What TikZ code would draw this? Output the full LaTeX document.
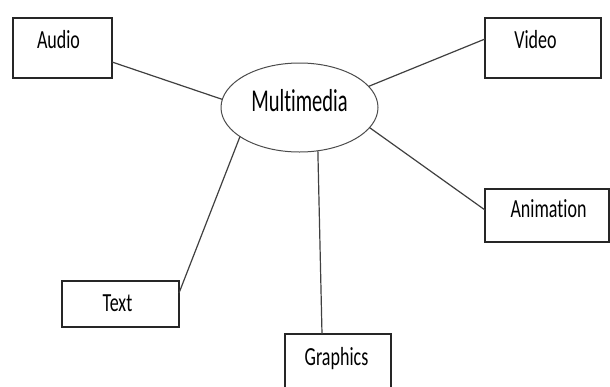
\documentclass[tikz,border=0pt]{standalone}
\usepackage{fontspec}
\usepackage{graphicx}
\setmainfont{Carlito}[Ligatures=NoCommon]
\usetikzlibrary{shapes.geometric}
\newcommand{\tallt}[2][1.45]{\scalebox{1}[#1]{#2}}
\begin{document}
\begin{tikzpicture}[x=1pt,y=-1pt,
  box/.style={draw=black!85, line width=1.3pt, inner sep=0pt, outer sep=0pt,
    font=\fontsize{18pt}{20pt}\selectfont},
  hub/.style={draw=black!70, line width=1pt, ellipse, inner sep=0pt, outer sep=0pt,
    minimum width=157pt, minimum height=89pt, text height=14pt, text depth=7pt,
    font=\fontsize{20.5pt}{22pt}\selectfont},
  link/.style={draw=black!75, line width=1.2pt}]
\useasboundingbox (0,0) rectangle (610,386);
\clip (0,0) rectangle (610,386);
\fill[white] (0,0) rectangle (610,386);

\node[hub] (mm) at (299.5,107.5) {\tallt[1.55]{Multimedia}};

\node[box, minimum width=99pt, text height=30pt, text depth=30pt] (audio) at (62.5,48) {\tallt{Audio}\hspace*{8pt}};
\node[box, minimum width=116pt, text height=30pt, text depth=30pt] (video) at (543,48) {\tallt{Video}\hspace*{15pt}};
\node[box, minimum width=124pt, text height=28pt, text depth=25pt] (anim) at (547,215.5) {\hspace*{3pt}\tallt{Animation}};
\node[box, minimum width=117pt, text height=30pt, text depth=16pt] (text) at (120.5,304) {\tallt{Text}\hspace*{6pt}};
\node[box, minimum width=106pt, text height=31pt, text depth=29pt] (graph) at (338,364) {\tallt{Graphics}\hspace*{3pt}};

\draw[link] ([yshift=-14pt]audio.east) -- (mm.174.5);
\draw[link] (mm.17.4) -- ([yshift=9pt]video.west);
\draw[link] (mm.-16.2) -- ([yshift=5.5pt]anim.west);
\draw[link] (mm.206.4) -- ([yshift=11pt]text.east);
\draw[link] (mm.-67.9) -- ([xshift=-16pt]graph.north);
\end{tikzpicture}
\end{document}
